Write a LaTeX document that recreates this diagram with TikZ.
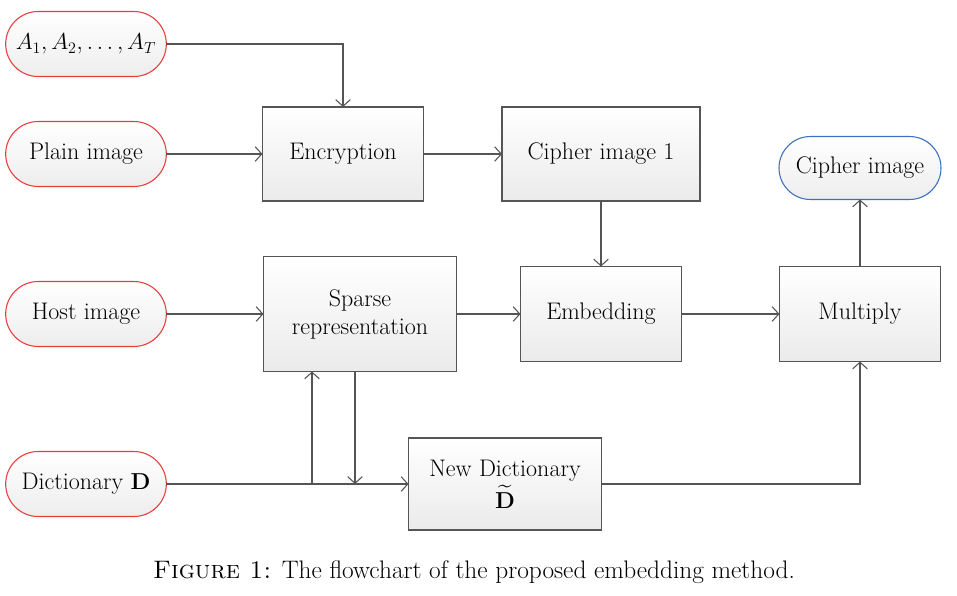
\documentclass[tikz,border=0pt]{standalone}
\usepackage{amsmath}
\usepackage{amssymb}
\usepackage{xcolor}
\usetikzlibrary{shapes.misc,arrows.meta}
\definecolor{termred}{RGB}{232,60,60}
\definecolor{termblue}{RGB}{60,112,190}
\definecolor{linegray}{RGB}{85,85,85}

\begin{document}
\begin{tikzpicture}[x=0.75pt,y=-0.75pt,
    font=\fontsize{18}{21}\selectfont,
    box/.style={draw=linegray,line width=0.8pt,top color=white,bottom color=black!8,
      minimum width=120.75pt,minimum height=70.5pt,align=center,outer sep=0pt},
    term/.style={rounded rectangle,draw=termred,line width=0.8pt,top color=white,
      bottom color=black!7,minimum width=124.5pt,minimum height=48.75pt,inner xsep=2pt,outer sep=0pt},
    flow/.style={draw=linegray,line width=0.8pt,-{Straight Barb[length=5pt,width=11pt]}}]
    \useasboundingbox (0,0) rectangle (957,596);
    \node[term] (seq) at (86,44) {$A_1, A_2, \ldots, A_T$};
    \node[term] (plain) at (86,154) {Plain image};
    \node[term] (host) at (86,314) {Host image};
    \node[term] (dict) at (86,484) {Dictionary $\mathbf{D}$};
    \node[box] (enc) at (343,154) {Encryption};
    \node[box,minimum width=148.5pt] (ciph1) at (601,154) {Cipher image 1};
    \node[box,minimum width=144.75pt,minimum height=86.25pt] (spr) at (360,314) {Sparse\\representation};
    \node[box,minimum height=71.25pt] (emb) at (601,314) {Embedding};
    \node[box,minimum height=71.25pt] (mult) at (860,314) {Multiply};
    \node[term,draw=termblue,minimum width=125.5pt,minimum height=47.25pt] (ciph) at (860,168) {Cipher image};
    \node[box,minimum width=144.75pt,minimum height=69pt] (newd) at (505,484) {New Dictionary\\[3pt]$\widetilde{\mathbf{D}}$};
    \node[font=\fontsize{19}{22}\selectfont] (cap) at (474,572) {\textsc{Figure 1:} The flowchart of the proposed embedding method.};
    \coordinate (split) at (312,484);
    \draw[flow] (seq.east) -| (enc.north);
    \draw[flow] (plain.east) -- (enc.west);
    \draw[flow] (enc.east) -- (ciph1.west);
    \draw[flow] (ciph1.south) -- (emb.north);
    \draw[flow] (host.east) -- (spr.west);
    \draw[flow] (spr.east) -- (emb.west);
    \draw[flow] (emb.east) -- (mult.west);
    \draw[flow] (mult.north) -- (ciph.south);
    \draw[flow] (dict.east) -- (newd.west);
    \draw[flow] (split) -- (split |- spr.south);
    \draw[flow] ([xshift=-3.75pt]spr.south) -- ([xshift=-3.75pt]spr.south |- split);
    \draw[flow] (newd.east) -| (mult.south);
\end{tikzpicture}
\end{document}
